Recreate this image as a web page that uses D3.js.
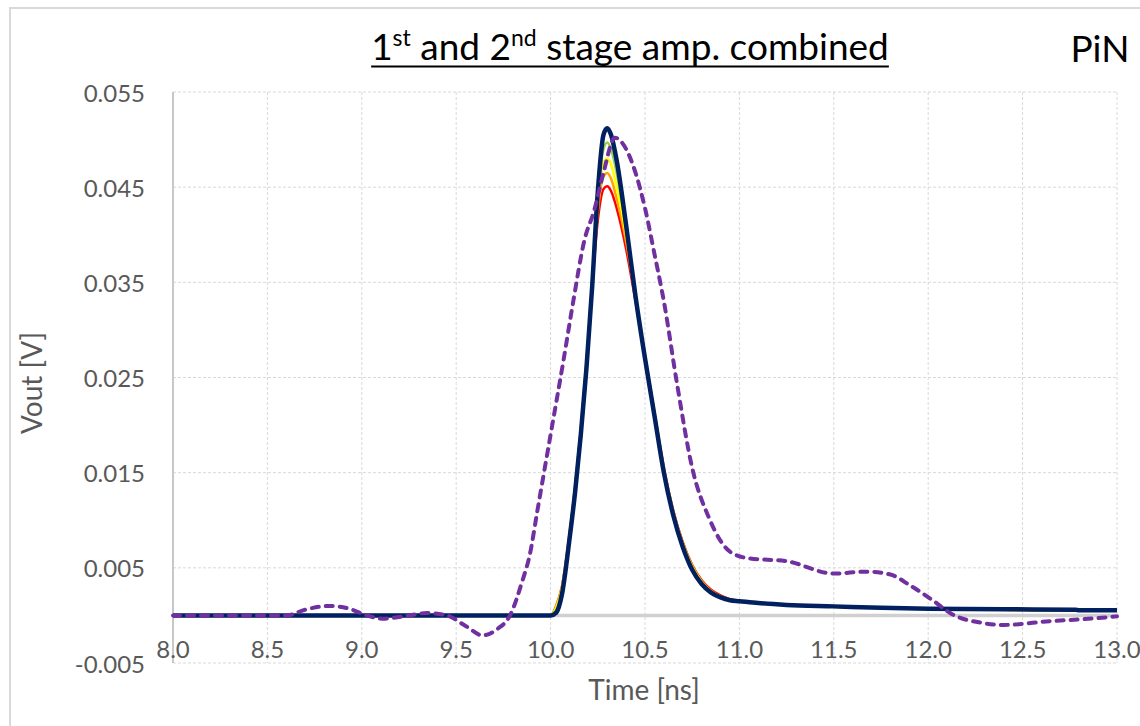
<!DOCTYPE html>
<html>
<head>
<meta charset="utf-8">
<script src="https://cdn.jsdelivr.net/npm/d3@7"></script>
<style>
  html, body { margin: 0; padding: 0; background: #fff; }
  svg { display: block; font-family: Lato, "Open Sans", sans-serif; }
</style>
</head>
<body>
<svg id="chart" width="1140" height="726"></svg>
<script>
// ---- Data ----
const xTicks = [8.0, 8.5, 9.0, 9.5, 10.0, 10.5, 11.0, 11.5, 12.0, 12.5, 13.0];
const yTicks = [-0.005, 0.005, 0.015, 0.025, 0.035, 0.045, 0.055];

const times = [8.0, 10.0, 10.03, 10.06, 10.1, 10.13, 10.16, 10.19, 10.22, 10.25, 10.28, 10.3, 10.32, 10.35, 10.4, 10.45, 10.5, 10.55, 10.6, 10.65, 10.7, 10.75, 10.8, 10.85, 10.9, 10.95, 11.0, 11.1, 11.25, 11.5, 11.75, 12.0, 12.4, 12.78, 12.8, 13.0];

const redV    = [0,0,0.001,0.003,0.0085,0.0135,0.0195,0.0265,0.0345,0.0415,0.0448,0.0451,0.0446,0.0428,0.0385,0.033,0.0272,0.0213,0.0155,0.011,0.0077,0.0053,0.0037,0.0027,0.0021,0.0017,0.0015,0.0013,0.0011,0.0009,0.0008,0.0007,0.0006,0.0005,0.0005,0.0005];
const orangeV = [0,0,0.001,0.003,0.0085,0.0135,0.0195,0.0265,0.0345,0.0425,0.0461,0.0465,0.0459,0.0438,0.0393,0.0333,0.0272,0.0213,0.0155,0.0109,0.0076,0.0052,0.0036,0.0026,0.002,0.0017,0.0015,0.0013,0.0011,0.0009,0.0008,0.0007,0.0006,0.0005,0.0005,0.0005];
const yellowV = [0,0,0.0008,0.0028,0.0083,0.0133,0.0193,0.0263,0.0345,0.0435,0.0475,0.048,0.0474,0.045,0.04,0.0334,0.0271,0.0212,0.0154,0.0108,0.0075,0.0051,0.0035,0.0025,0.002,0.0016,0.0015,0.0013,0.0011,0.0009,0.0008,0.0007,0.0006,0.0005,0.0005,0.0005];
const greenV  = [0,0,0.0006,0.0026,0.0081,0.0131,0.0191,0.0261,0.0345,0.044,0.049,0.0497,0.049,0.0465,0.0405,0.0335,0.027,0.0211,0.0152,0.0107,0.0074,0.005,0.0034,0.0025,0.0019,0.0016,0.0015,0.0013,0.0011,0.0009,0.0008,0.0007,0.0006,0.0005,0.0005,0.0005];
const navyV   = [0,0,0.0003,0.0022,0.008,0.013,0.019,0.026,0.0345,0.0445,0.0505,0.0512,0.0505,0.0478,0.041,0.0335,0.027,0.021,0.015,0.0105,0.0072,0.0048,0.0033,0.0024,0.0019,0.0016,0.0015,0.0013,0.0011,0.00095,0.0008,0.0007,0.00065,0.0006,0.00055,0.00055];

const purpleT = [8.0, 8.6, 8.7, 8.83, 8.95, 9.0, 9.11, 9.22, 9.345, 9.45, 9.55, 9.64, 9.72, 9.785, 9.85, 9.89, 9.93, 10.0, 10.07, 10.12, 10.18, 10.23, 10.28, 10.34, 10.4, 10.45, 10.5, 10.55, 10.6, 10.67, 10.75, 10.84, 10.95, 11.05, 11.25, 11.5, 11.67, 11.8, 11.9, 12.03, 12.12, 12.29, 12.4, 12.65, 12.82, 13.0];
const purpleV = [0, 0, 0.0006, 0.001, 0.0006, 0.0002, -0.00035, -0.0001, 0.00025, 0.0, -0.0011, -0.0021, -0.0014, 0.0, 0.0036, 0.0064, 0.011, 0.019, 0.027, 0.033, 0.0395, 0.0425, 0.0465, 0.0502, 0.049, 0.0465, 0.0428, 0.038, 0.033, 0.0243, 0.0155, 0.0102, 0.0067, 0.006, 0.0057, 0.0044, 0.0046, 0.0043, 0.0032, 0.0015, 0.0002, -0.0008, -0.001, -0.0006, -0.0004, -0.0001];

const seriesColors = ["#FF0000", "#FFA500", "#FFFF00", "#92D050", "#002060"];
const seriesValues = [redV, orangeV, yellowV, greenV, navyV];

// ---- Chart ----
const svg = d3.select("#chart");
const pLeft = 173, pRight = 1117, pTop = 92, pBottom = 663;

const x = d3.scaleLinear().domain([8.0, 13.0]).range([pLeft, pRight]);
const y = d3.scaleLinear().domain([-0.005, 0.055]).range([pBottom, pTop]);

// outer chart border
svg.append("rect").attr("x", 10).attr("y", 8).attr("width", 1200).attr("height", 800)
  .attr("fill", "#fff").attr("stroke", "#d9d9d9").attr("stroke-width", 2);

// horizontal grid
svg.append("g").selectAll("line").data(yTicks).join("line")
  .attr("x1", pLeft).attr("x2", pRight)
  .attr("y1", d => y(d)).attr("y2", d => y(d))
  .attr("stroke", "#d9d9d9").attr("stroke-width", 1).attr("stroke-dasharray", "3,2");

// vertical grid
svg.append("g").selectAll("line").data(xTicks.slice(1)).join("line")
  .attr("x1", d => x(d)).attr("x2", d => x(d))
  .attr("y1", pTop).attr("y2", pBottom)
  .attr("stroke", "#d9d9d9").attr("stroke-width", 1).attr("stroke-dasharray", "3,2");

// y axis line
svg.append("line").attr("x1", pLeft).attr("x2", pLeft).attr("y1", pTop).attr("y2", pBottom)
  .attr("stroke", "#c8c8c8").attr("stroke-width", 2);

// zero axis line
svg.append("line").attr("x1", pLeft).attr("x2", pRight).attr("y1", y(0)).attr("y2", y(0))
  .attr("stroke", "#d0d0d0").attr("stroke-width", 3.5);

// y tick labels
svg.append("g").selectAll("text").data(yTicks).join("text")
  .attr("x", 145).attr("y", d => y(d))
  .attr("text-anchor", "end").attr("dominant-baseline", "central")
  .attr("font-size", 24).attr("fill", "#595959")
  .text(d => d3.format(".3f")(d).replace("\u2212", "-"));

// x tick labels
svg.append("g").selectAll("text").data(xTicks).join("text")
  .attr("x", d => x(d)).attr("y", 648)
  .attr("text-anchor", "middle").attr("dominant-baseline", "central")
  .attr("font-size", 24).attr("fill", "#595959")
  .text(d => d3.format(".1f")(d));

// axis titles
svg.append("text").attr("x", 644).attr("y", 689)
  .attr("text-anchor", "middle").attr("dominant-baseline", "central")
  .attr("font-size", 28).attr("fill", "#595959").text("Time [ns]");
svg.append("text").attr("transform", "translate(31,383) rotate(-90)")
  .attr("text-anchor", "middle").attr("dominant-baseline", "central")
  .attr("font-size", 28).attr("fill", "#595959").text("Vout [V]");

// title with superscripts
const title = svg.append("text").attr("x", 630).attr("y", 60)
  .attr("text-anchor", "middle").attr("font-size", 37).attr("fill", "#000");
title.append("tspan").text("1");
title.append("tspan").attr("dy", -14).attr("font-size", 23).text("st");
title.append("tspan").attr("dy", 14).text(" and 2");
title.append("tspan").attr("dy", -14).attr("font-size", 23).text("nd");
title.append("tspan").attr("dy", 14).text(" stage amp. combined");
const tb = title.node().getBBox();
svg.append("line").attr("x1", tb.x).attr("x2", tb.x + tb.width)
  .attr("y1", 66.5).attr("y2", 66.5).attr("stroke", "#000").attr("stroke-width", 2);

svg.append("text").attr("x", 1100).attr("y", 62).attr("text-anchor", "middle")
  .attr("font-size", 37).attr("fill", "#000").text("PiN");

// solid series
const line = d3.line().x(d => x(d[0])).y(d => y(d[1])).curve(d3.curveMonotoneX);
seriesValues.forEach((vals, i) => {
  const pts = times.map((t, j) => [t, vals[j]]);
  svg.append("path").datum(pts).attr("d", line)
    .attr("fill", "none").attr("stroke", seriesColors[i])
    .attr("stroke-width", i === 4 ? 4.5 : 2.5)
    .attr("stroke-linejoin", "round");
});

// dashed purple series
const ppts = purpleT.map((t, j) => [t, purpleV[j]]);
svg.append("path").datum(ppts).attr("d", line)
  .attr("fill", "none").attr("stroke", "#7030A0").attr("stroke-width", 4)
  .attr("stroke-dasharray", "7,7").attr("stroke-linecap", "round");
</script>
</body>
</html>
